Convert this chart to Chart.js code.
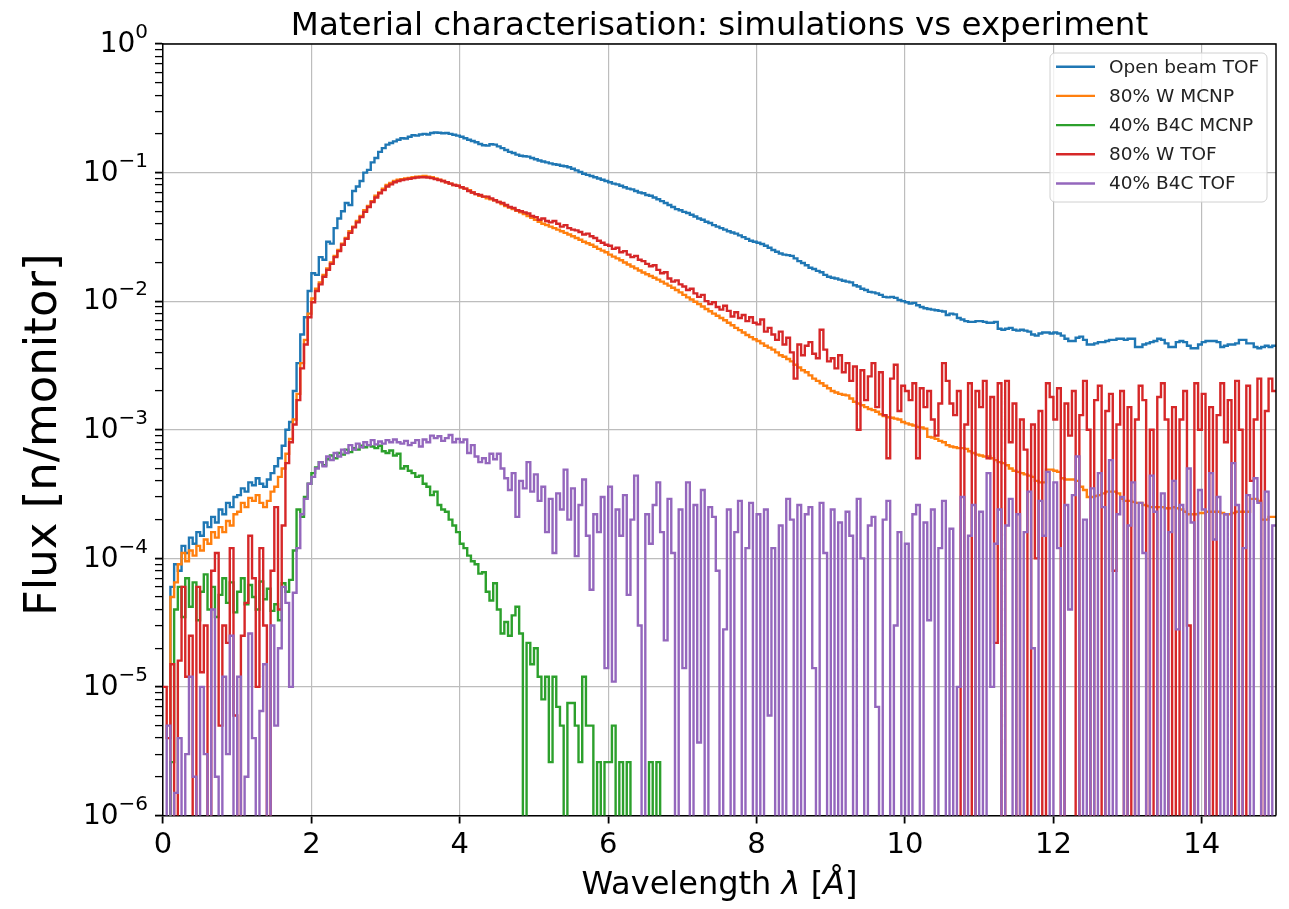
<!DOCTYPE html>
<html>
<head>
<meta charset="utf-8">
<script src="https://cdn.jsdelivr.net/npm/chart.js@4.4.1/dist/chart.umd.min.js"></script>
<style>
  html, body { margin: 0; padding: 0; background: #ffffff; }
  #wrap { width: 1289px; height: 909px; }
</style>
</head>
<body>
<div id="wrap"><canvas id="flux" width="1289" height="909"></canvas></div>
<script>
// Wavelength binning (Å): every series is a histogram on 0.05 Å bins starting at 0
const BIN_WIDTH = 0.05;

// Open beam, time-of-flight measurement
const openBeamTof = [
  0, 0, 6e-5, 9e-5, 8e-5, 1.25e-4, 1.1e-4, 1.45e-4, 1.3e-4, 1.6e-4, 1.5e-4, 1.9e-4, 1.75e-4, 2.1e-4, 1.9e-4, 2.4e-4, 2.2e-4, 2.7e-4, 2.5e-4, 3.0e-4,
  3.1e-4, 3.5e-4, 3.3e-4, 3.9e-4, 3.7e-4, 4.2e-4, 3.8e-4, 3.6e-4, 4.1e-4, 4.6e-4, 5.2e-4, 6.0e-4, 7.5e-4, 1.0e-3, 1.15e-3, 2.0e-3, 3.3e-3, 5.5e-3, 7.5e-3, 1.2e-2,
  1.65e-2, 1.6e-2, 2.2e-2, 2.1e-2, 2.9e-2, 2.8e-2, 3.7e-2, 4.4e-2, 5.0e-2, 5.8e-2, 5.6e-2, 7.2e-2, 7.8e-2, 8.6e-2, 1.0e-1, 1.05e-1, 1.2e-1, 1.3e-1, 1.45e-1, 1.55e-1,
  1.65e-1, 1.7e-1, 1.75e-1, 1.8e-1, 1.85e-1, 1.84e-1, 1.9e-1, 1.95e-1, 1.94e-1, 1.98e-1, 2.0e-1, 1.98e-1, 2.03e-1, 2.05e-1, 2.04e-1, 2.02e-1, 2.03e-1, 2.0e-1, 1.97e-1, 1.94e-1,
  1.9e-1, 1.85e-1, 1.8e-1, 1.76e-1, 1.72e-1, 1.67e-1, 1.63e-1, 1.62e-1, 1.66e-1, 1.65e-1, 1.6e-1, 1.55e-1, 1.5e-1, 1.45e-1, 1.42e-1, 1.38e-1, 1.35e-1, 1.34e-1, 1.33e-1, 1.3e-1,
  1.27e-1, 1.24e-1, 1.22e-1, 1.2e-1, 1.18e-1, 1.16e-1, 1.15e-1, 1.13e-1, 1.12e-1, 1.1e-1, 1.07e-1, 1.04e-1, 1.01e-1, 9.8e-2, 9.6e-2, 9.4e-2, 9.2e-2, 9.0e-2, 8.8e-2, 8.6e-2,
  8.4e-2, 8.2e-2, 8.1e-2, 7.9e-2, 7.7e-2, 7.5e-2, 7.4e-2, 7.2e-2, 7.0e-2, 6.9e-2, 6.7e-2, 6.6e-2, 6.4e-2, 6.2e-2, 6.0e-2, 5.8e-2, 5.6e-2, 5.4e-2, 5.2e-2, 5.1e-2,
  4.95e-2, 4.85e-2, 4.7e-2, 4.55e-2, 4.4e-2, 4.3e-2, 4.15e-2, 4.05e-2, 3.9e-2, 3.8e-2, 3.7e-2, 3.6e-2, 3.5e-2, 3.42e-2, 3.35e-2, 3.25e-2, 3.15e-2, 3.05e-2, 2.95e-2, 2.9e-2,
  2.85e-2, 2.78e-2, 2.7e-2, 2.6e-2, 2.5e-2, 2.42e-2, 2.35e-2, 2.3e-2, 2.28e-2, 2.25e-2, 2.15e-2, 2.05e-2, 1.98e-2, 1.9e-2, 1.82e-2, 1.78e-2, 1.72e-2, 1.68e-2, 1.6e-2, 1.55e-2,
  1.52e-2, 1.5e-2, 1.47e-2, 1.44e-2, 1.42e-2, 1.4e-2, 1.33e-2, 1.3e-2, 1.25e-2, 1.22e-2, 1.18e-2, 1.17e-2, 1.15e-2, 1.12e-2, 1.08e-2, 1.07e-2, 1.08e-2, 1.06e-2, 1.02e-2, 1.0e-2,
  9.8e-3, 9.6e-3, 9.7e-3, 9.3e-3, 9.0e-3, 8.8e-3, 8.7e-3, 8.6e-3, 8.5e-3, 8.4e-3, 8.3e-3, 7.8e-3, 8.0e-3, 7.9e-3, 7.4e-3, 7.2e-3, 7.0e-3, 6.9e-3, 6.9e-3, 7.0e-3,
  7.0e-3, 6.9e-3, 6.8e-3, 6.8e-3, 6.9e-3, 6.1e-3, 6.0e-3, 6.1e-3, 6.2e-3, 6.0e-3, 5.9e-3, 6.0e-3, 5.9e-3, 5.8e-3, 5.5e-3, 5.4e-3, 5.6e-3, 5.7e-3, 5.7e-3, 5.6e-3,
  5.7e-3, 5.6e-3, 5.4e-3, 5.1e-3, 4.9e-3, 4.9e-3, 5.2e-3, 5.3e-3, 5.0e-3, 4.6e-3, 4.6e-3, 4.7e-3, 4.8e-3, 4.8e-3, 4.9e-3, 5.0e-3, 5.0e-3, 5.1e-3, 5.1e-3, 5.0e-3,
  5.1e-3, 5.1e-3, 4.4e-3, 4.4e-3, 4.6e-3, 4.7e-3, 4.8e-3, 4.9e-3, 5.1e-3, 5.0e-3, 4.7e-3, 4.4e-3, 4.4e-3, 4.8e-3, 4.9e-3, 4.8e-3, 4.5e-3, 4.3e-3, 4.3e-3, 4.6e-3,
  4.8e-3, 4.9e-3, 4.9e-3, 4.9e-3, 4.8e-3, 4.4e-3, 4.5e-3, 4.6e-3, 4.6e-3, 4.7e-3, 5.0e-3, 5.0e-3, 4.7e-3, 4.7e-3, 4.4e-3, 4.3e-3, 4.4e-3, 4.5e-3, 4.4e-3, 4.5e-3
];

// 80% W sample, MCNP simulation
const tungstenMcnp = [
  0, 0, 5e-5, 6.5e-5, 9e-5, 1.1e-4, 9.5e-5, 1.15e-4, 1.05e-4, 1.25e-4, 1.15e-4, 1.4e-4, 1.3e-4, 1.6e-4, 1.45e-4, 1.75e-4, 1.6e-4, 1.95e-4, 1.8e-4, 2.2e-4,
  2.3e-4, 2.7e-4, 2.5e-4, 2.95e-4, 2.8e-4, 3.1e-4, 2.7e-4, 2.5e-4, 2.8e-4, 3.3e-4, 3.6e-4, 4.3e-4, 5.0e-4, 6.5e-4, 8.5e-4, 1.2e-3, 1.9e-3, 3.3e-3, 5.0e-3, 8.0e-3,
  1.05e-2, 1.25e-2, 1.4e-2, 1.6e-2, 1.8e-2, 2.0e-2, 2.25e-2, 2.5e-2, 2.8e-2, 3.1e-2, 3.5e-2, 3.8e-2, 4.2e-2, 4.6e-2, 5.1e-2, 5.5e-2, 6.0e-2, 6.6e-2, 7.0e-2, 7.5e-2,
  8.0e-2, 8.3e-2, 8.6e-2, 8.8e-2, 8.9e-2, 9.0e-2, 9.1e-2, 9.2e-2, 9.3e-2, 9.35e-2, 9.4e-2, 9.3e-2, 9.2e-2, 9.0e-2, 8.8e-2, 8.6e-2, 8.4e-2, 8.2e-2, 8.0e-2, 7.9e-2,
  7.7e-2, 7.5e-2, 7.3e-2, 7.0e-2, 6.8e-2, 6.6e-2, 6.5e-2, 6.3e-2, 6.2e-2, 6.1e-2, 5.9e-2, 5.7e-2, 5.5e-2, 5.35e-2, 5.2e-2, 5.05e-2, 4.9e-2, 4.75e-2, 4.6e-2, 4.45e-2,
  4.3e-2, 4.15e-2, 4.0e-2, 3.9e-2, 3.8e-2, 3.7e-2, 3.6e-2, 3.5e-2, 3.4e-2, 3.3e-2, 3.2e-2, 3.1e-2, 3.0e-2, 2.9e-2, 2.82e-2, 2.75e-2, 2.65e-2, 2.55e-2, 2.47e-2, 2.4e-2,
  2.3e-2, 2.22e-2, 2.15e-2, 2.08e-2, 2.0e-2, 1.93e-2, 1.86e-2, 1.8e-2, 1.73e-2, 1.67e-2, 1.62e-2, 1.57e-2, 1.52e-2, 1.47e-2, 1.42e-2, 1.37e-2, 1.32e-2, 1.27e-2, 1.22e-2, 1.17e-2,
  1.12e-2, 1.07e-2, 1.03e-2, 9.9e-3, 9.5e-3, 9.1e-3, 8.7e-3, 8.35e-3, 8.0e-3, 7.7e-3, 7.4e-3, 7.1e-3, 6.8e-3, 6.5e-3, 6.2e-3, 5.95e-3, 5.7e-3, 5.45e-3, 5.25e-3, 5.05e-3,
  4.9e-3, 4.7e-3, 4.5e-3, 4.35e-3, 4.2e-3, 4.0e-3, 3.8e-3, 3.7e-3, 3.55e-3, 3.4e-3, 3.2e-3, 3.05e-3, 2.9e-3, 2.8e-3, 2.65e-3, 2.5e-3, 2.4e-3, 2.3e-3, 2.2e-3, 2.1e-3,
  2.0e-3, 1.95e-3, 1.9e-3, 1.87e-3, 1.85e-3, 1.75e-3, 1.65e-3, 1.6e-3, 1.55e-3, 1.5e-3, 1.45e-3, 1.42e-3, 1.38e-3, 1.32e-3, 1.28e-3, 1.25e-3, 1.24e-3, 1.22e-3, 1.2e-3, 1.15e-3,
  1.12e-3, 1.1e-3, 1.08e-3, 1.05e-3, 1.04e-3, 1.02e-3, 8.8e-4, 8.7e-4, 8.5e-4, 8.2e-4, 8.0e-4, 7.6e-4, 7.4e-4, 7.3e-4, 7.2e-4, 7.2e-4, 7.1e-4, 6.8e-4, 6.6e-4, 6.4e-4,
  6.3e-4, 6.2e-4, 6.2e-4, 6.0e-4, 5.8e-4, 5.6e-4, 5.5e-4, 5.3e-4, 5.0e-4, 4.8e-4, 4.7e-4, 4.6e-4, 4.5e-4, 4.4e-4, 4.3e-4, 4.0e-4, 3.9e-4, 3.9e-4, 4.9e-4, 4.9e-4,
  4.8e-4, 4.7e-4, 4.2e-4, 4.1e-4, 4.1e-4, 4.1e-4, 4.0e-4, 3.6e-4, 3.4e-4, 3.0e-4, 3.0e-4, 3.05e-4, 3.1e-4, 3.2e-4, 3.3e-4, 3.3e-4, 3.3e-4, 3.2e-4, 2.9e-4, 2.8e-4,
  2.8e-4, 2.75e-4, 2.7e-4, 2.7e-4, 2.6e-4, 2.55e-4, 2.5e-4, 2.5e-4, 2.5e-4, 2.5e-4, 2.45e-4, 2.45e-4, 2.5e-4, 2.45e-4, 2.4e-4, 2.3e-4, 2.2e-4, 2.2e-4, 2.2e-4, 2.25e-4,
  2.25e-4, 2.3e-4, 2.3e-4, 2.3e-4, 2.3e-4, 2.25e-4, 2.2e-4, 2.2e-4, 2.25e-4, 2.3e-4, 2.3e-4, 2.3e-4, 2.3e-4, 2.9e-4, 2.9e-4, 2.8e-4, 2.0e-4, 2.0e-4, 2.1e-4, 2.1e-4
];

// 40% B4C sample, MCNP simulation (empty beyond 6.75 Å)
const boronCarbideMcnp = [
  0, 0, 2.6e-6, 4e-5, 6e-5, 3.5e-5, 7e-5, 4.2e-5, 6.5e-5, 3.3e-5, 5.5e-5, 7.5e-5, 4e-5, 6e-5, 3.5e-5, 5.2e-5, 7e-5, 4.5e-5, 6.5e-5, 3.8e-5,
  5.5e-5, 7e-5, 4.4e-5, 6.2e-5, 5.0e-5, 4.0e-5, 6.6e-5, 4.8e-5, 5.8e-5, 3.9e-5, 4.4e-5, 3.3e-5, 6.4e-5, 5.5e-5, 6.8e-5, 1.15e-4, 2.4e-4, 2.1e-4, 3.0e-4, 3.8e-4,
  4.6e-4, 5.1e-4, 5.6e-4, 5.3e-4, 5.9e-4, 6.3e-4, 6.0e-4, 6.6e-4, 6.4e-4, 7.0e-4, 6.7e-4, 7.2e-4, 7.0e-4, 7.5e-4, 7.3e-4, 7.6e-4, 7.4e-4, 7.2e-4, 7.5e-4, 6.8e-4,
  6.6e-4, 6.9e-4, 6.3e-4, 6.5e-4, 5.0e-4, 5.2e-4, 4.8e-4, 4.6e-4, 4.3e-4, 4.4e-4, 3.8e-4, 3.6e-4, 3.1e-4, 3.3e-4, 2.6e-4, 2.4e-4, 2.3e-4, 2.0e-4, 1.8e-4, 1.6e-4,
  1.3e-4, 1.2e-4, 1.05e-4, 9.5e-5, 9.0e-5, 7.6e-5, 7.8e-5, 5.5e-5, 4.7e-5, 6.4e-5, 4.0e-5, 2.6e-5, 3.2e-5, 2.5e-5, 3.6e-5, 4.2e-5, 2.6e-5, 0, 2.2e-5, 1.5e-5,
  2.0e-5, 1.2e-5, 8e-6, 1.2e-5, 2.6e-6, 1.2e-5, 7e-6, 5e-6, 0, 7.5e-6, 7.5e-6, 5e-6, 2.6e-6, 1.2e-5, 5e-6, 5e-6, 0, 2.6e-6, 0, 2.6e-6,
  2.6e-6, 5e-6, 0, 2.6e-6, 0, 2.6e-6, 0, 0, 0, 0, 0, 2.6e-6, 0, 2.6e-6, 0, 0
];

// 80% W sample, time-of-flight measurement
const tungstenTof = [
  1.0e-5, 4e-6, 1.5e-5, 0, 1.6e-5, 6e-5, 1.2e-5, 2.5e-5, 0, 6e-5, 1.3e-5, 3e-5, 0, 8e-5, 1.1e-4, 5e-6, 3e-5, 2.2e-5, 1.2e-4, 6e-6,
  0, 2.5e-5, 4.5e-5, 1.5e-4, 7e-5, 1.0e-5, 1.2e-4, 3e-5, 0, 8e-5, 2.5e-4, 4e-5, 1.8e-4, 5.5e-4, 8e-4, 1.1e-3, 1.7e-3, 3.0e-3, 4.6e-3, 7.5e-3,
  9.8e-3, 1.2e-2, 1.35e-2, 1.55e-2, 1.75e-2, 1.95e-2, 2.2e-2, 2.45e-2, 2.75e-2, 3.05e-2, 3.4e-2, 3.75e-2, 4.1e-2, 4.5e-2, 4.95e-2, 5.4e-2, 5.9e-2, 6.4e-2, 6.9e-2, 7.3e-2,
  7.8e-2, 8.1e-2, 8.4e-2, 8.6e-2, 8.75e-2, 8.85e-2, 8.95e-2, 9.05e-2, 9.15e-2, 9.2e-2, 9.2e-2, 9.15e-2, 9.05e-2, 8.9e-2, 8.75e-2, 8.6e-2, 8.4e-2, 8.2e-2, 8.0e-2, 7.9e-2,
  7.7e-2, 7.5e-2, 7.2e-2, 7.0e-2, 6.8e-2, 6.7e-2, 6.5e-2, 6.5e-2, 6.3e-2, 6.1e-2, 5.9e-2, 5.8e-2, 5.6e-2, 5.4e-2, 5.3e-2, 5.1e-2, 5.0e-2, 4.9e-2, 4.8e-2, 4.6e-2,
  4.5e-2, 4.3e-2, 4.4e-2, 4.2e-2, 4.1e-2, 4.2e-2, 4.0e-2, 3.8e-2, 3.9e-2, 3.7e-2, 3.6e-2, 3.55e-2, 3.45e-2, 3.3e-2, 3.35e-2, 3.2e-2, 3.1e-2, 2.95e-2, 2.85e-2, 2.75e-2,
  2.7e-2, 2.55e-2, 2.6e-2, 2.4e-2, 2.45e-2, 2.3e-2, 2.2e-2, 2.25e-2, 2.1e-2, 2.05e-2, 1.95e-2, 1.87e-2, 1.9e-2, 1.75e-2, 1.65e-2, 1.68e-2, 1.5e-2, 1.42e-2, 1.45e-2, 1.35e-2,
  1.3e-2, 1.22e-2, 1.25e-2, 1.15e-2, 1.08e-2, 1.12e-2, 1.0e-2, 9.5e-3, 9.8e-3, 9.0e-3, 8.6e-3, 9.2e-3, 8.4e-3, 7.6e-3, 8.2e-3, 7.4e-3, 7.8e-3, 7.0e-3, 7.5e-3, 6.8e-3,
  6.6e-3, 7.2e-3, 5.8e-3, 6.2e-3, 5.5e-3, 5.0e-3, 5.8e-3, 4.6e-3, 5.2e-3, 4.0e-3, 2.5e-3, 4.6e-3, 3.8e-3, 4.5e-3, 4.8e-3, 3.9e-3, 3.6e-3, 6.0e-3, 4.2e-3, 3.4e-3,
  3.6e-3, 3.0e-3, 3.8e-3, 2.8e-3, 3.3e-3, 2.4e-3, 3.1e-3, 1.0e-3, 2.9e-3, 1.7e-3, 2.6e-3, 3.3e-3, 1.5e-3, 2.8e-3, 1.3e-3, 6.0e-4, 2.5e-3, 3.2e-3, 1.4e-3, 2.2e-3,
  2.0e-3, 1.7e-3, 2.3e-3, 6e-4, 2.1e-3, 1.5e-3, 2.0e-3, 1.2e-3, 9e-4, 1.6e-3, 3.3e-3, 2.4e-3, 1.6e-3, 1.3e-3, 2.0e-3, 0, 1.1e-3, 2.3e-3, 0, 2.0e-3,
  1.5e-3, 2.4e-3, 6e-4, 1.8e-3, 2.2e-5, 2.3e-3, 0, 2.4e-3, 8e-4, 1.6e-3, 0, 1.2e-3, 7e-4, 0, 1.1e-3, 1e-4, 1.4e-3, 0, 2.3e-3, 1.8e-3,
  1.2e-3, 2.1e-3, 0, 1.6e-3, 9e-4, 2.0e-3, 0, 1.3e-3, 2.4e-3, 1.0e-3, 0, 1.7e-3, 2.2e-3, 0, 1.4e-3, 1.9e-3, 8e-5, 1.1e-3, 2.0e-3, 0,
  1.5e-3, 0, 1.2e-3, 2.2e-3, 1.7e-3, 0, 1.0e-3, 0, 1.8e-3, 2.3e-3, 1.2e-3, 0, 1.5e-3, 0, 1.2e-3, 2.0e-3, 3e-5, 0, 2.3e-3, 1.0e-3,
  1.9e-3, 0, 1.5e-3, 0, 1.3e-3, 2.3e-3, 8e-4, 1.7e-3, 0, 2.4e-3, 1.0e-3, 0, 2.2e-3, 4e-4, 1.2e-3, 2.5e-3, 0, 1.4e-3, 2.5e-3, 2.0e-3
];

// 40% B4C sample, time-of-flight measurement
const boronCarbideTof = [
  0, 5e-6, 0, 1.5e-6, 4e-6, 0, 3e-6, 1.2e-5, 2e-6, 0, 1e-5, 3e-6, 0, 4e-5, 2e-6, 0, 1.2e-5, 3e-6, 2.5e-5, 0,
  1.2e-5, 0, 2e-6, 2.6e-5, 4e-6, 0, 6.5e-6, 1.5e-5, 0, 3e-5, 5e-6, 2e-5, 6e-5, 4.5e-5, 1e-5, 5.4e-5, 1.2e-4, 2.2e-4, 2.9e-4, 3.8e-4,
  4.3e-4, 5.0e-4, 5.6e-4, 5.2e-4, 6.2e-4, 5.8e-4, 6.6e-4, 6.2e-4, 7.0e-4, 6.6e-4, 7.6e-4, 7.0e-4, 7.8e-4, 7.3e-4, 8.0e-4, 7.6e-4, 8.3e-4, 7.7e-4, 8.1e-4, 7.8e-4,
  8.3e-4, 8.0e-4, 8.4e-4, 8.0e-4, 7.8e-4, 8.2e-4, 7.6e-4, 7.9e-4, 8.3e-4, 7.4e-4, 8.4e-4, 8.0e-4, 9.0e-4, 8.6e-4, 8.9e-4, 8.2e-4, 8.6e-4, 9.1e-4, 8.0e-4, 8.5e-4,
  8.0e-4, 8.4e-4, 6.6e-4, 7.6e-4, 6.2e-4, 5.6e-4, 6.0e-4, 5.5e-4, 6.5e-4, 5.9e-4, 6.5e-4, 5.0e-4, 4.2e-4, 3.4e-4, 4.6e-4, 2.1e-4, 4.0e-4, 3.5e-4, 5.6e-4, 3.3e-4,
  4.5e-4, 2.8e-4, 3.6e-4, 1.6e-4, 2.9e-4, 1.1e-4, 3.2e-4, 2.4e-4, 4.9e-4, 2.0e-4, 3.5e-4, 1.04e-4, 2.6e-4, 4.1e-4, 1.5e-4, 5.7e-5, 2.2e-4, 1.6e-4, 3.0e-4, 1.4e-5,
  3.6e-4, 1.1e-5, 2.4e-4, 1.5e-4, 3.1e-4, 5.2e-5, 2.0e-4, 4.4e-4, 3.0e-5, 0, 2.2e-4, 1.3e-4, 2.6e-4, 3.9e-4, 1.6e-4, 2.3e-5, 2.9e-4, 1.1e-4, 0, 2.4e-4,
  1.4e-5, 3.9e-4, 0, 2.6e-4, 3.7e-6, 3.4e-4, 0, 2.5e-4, 2.1e-4, 8e-5, 0, 2.8e-5, 2.4e-4, 0, 1.6e-4, 2.8e-4, 0, 1.2e-4, 2.7e-4, 0,
  2.2e-4, 0, 2.4e-4, 6e-6, 1.2e-4, 0, 1.8e-4, 0, 2.9e-4, 2.0e-4, 0, 2.6e-4, 0, 2.2e-4, 2.5e-4, 1.4e-5, 0, 2.7e-4, 1.1e-4, 0,
  2.4e-4, 0, 1.9e-4, 0, 2.3e-4, 1.5e-4, 0, 2.9e-4, 1.0e-4, 0, 1.8e-4, 2.1e-4, 7e-6, 0, 2.0e-4, 2.8e-4, 0, 3e-5, 1.6e-4, 0,
  1.3e-4, 0, 2.2e-4, 2.6e-4, 0, 1.9e-4, 3.3e-5, 2.4e-4, 0, 1.2e-4, 2.8e-4, 0, 1.7e-4, 0, 1e-5, 3.0e-4, 0, 1.5e-4, 2.6e-4, 0,
  2.3e-4, 0, 4.6e-4, 1e-5, 1.3e-4, 2.4e-4, 0, 1.8e-4, 2.9e-4, 0, 2.2e-4, 0, 1.6e-4, 3.3e-4, 2e-5, 0, 2.8e-4, 1.5e-4, 4.7e-4, 0,
  3.9e-4, 1.2e-4, 0, 2.6e-4, 4e-5, 3.1e-4, 6.2e-4, 0, 2.0e-4, 0, 3.5e-4, 0, 4.6e-4, 2.5e-4, 0, 5.8e-4, 0, 2.2e-4, 3.0e-4, 0,
  1.8e-4, 3.9e-4, 0, 2.7e-4, 1.1e-4, 0, 4.4e-4, 2.3e-4, 0, 3.2e-4, 0, 1.6e-4, 4.0e-4, 2.8e-5, 2.6e-4, 0, 5.0e-4, 1.9e-4, 0, 3.4e-4,
  2.4e-4, 0, 4.6e-4, 1.4e-4, 3.0e-4, 0, 2.2e-4, 0, 5.5e-4, 2.6e-4, 0, 1.2e-4, 3.1e-4, 0, 4.2e-4, 2.7e-4, 0, 3.3e-4, 0, 1.8e-4
];

const seriesLabels = ['Open beam TOF', '80% W MCNP', '40% B4C MCNP', '80% W TOF', '40% B4C TOF'];
const seriesValues = [openBeamTof, tungstenMcnp, boronCarbideMcnp, tungstenTof, boronCarbideTof];
const seriesColors = ['#1f77b4', '#ff7f0e', '#2ca02c', '#d62728', '#9467bd'];

const xTickValues = [0, 2, 4, 6, 8, 10, 12, 14];
const decades = [-6, -5, -4, -3, -2, -1, 0];

const TITLE = 'Material characterisation: simulations vs experiment';
const Y_TITLE = 'Flux [n/monitor]';
const FONT = '"DejaVu Sans", "Liberation Sans", sans-serif';
const GRID_COLOR = '#bdbdbd';

// empty bins (zero counts) are placed far below the visible range so the step drops off the axis
const EMPTY_BIN = 1e-9;

function toSteps(values) {
  const pts = values.map((v, i) => ({ x: i * BIN_WIDTH, y: v > 0 ? v : EMPTY_BIN }));
  const last = values[values.length - 1];
  pts.push({ x: values.length * BIN_WIDTH, y: last > 0 ? last : EMPTY_BIN });
  return pts;
}

function isDecade(v) {
  const l = Math.log10(v);
  return Math.abs(l - Math.round(l)) < 1e-9;
}

// y tick positions: each decade and its 2..9 sub-divisions
const yTickValues = [];
decades.forEach(e => {
  yTickValues.push(Math.pow(10, e));
  if (e < 0) for (let m = 2; m <= 9; m++) yTickValues.push(m * Math.pow(10, e));
});

const datasets = seriesValues.map((vals, k) => ({
  label: seriesLabels[k],
  data: toSteps(vals),
  borderColor: seriesColors[k],
  backgroundColor: seriesColors[k],
  borderWidth: 2.4,
  stepped: true,
  pointRadius: 0,
  fill: false,
  order: seriesValues.length - k
}));

const decorations = {
  id: 'decorations',
  afterDraw(chart) {
    const { ctx, chartArea: a } = chart;
    const ys = chart.scales.y;
    ctx.save();

    // top and right frame lines
    ctx.strokeStyle = '#000';
    ctx.lineWidth = 1.5;
    ctx.beginPath();
    ctx.moveTo(a.left, a.top);
    ctx.lineTo(a.right, a.top);
    ctx.lineTo(a.right, a.bottom);
    ctx.stroke();

    ctx.fillStyle = '#000';

    // y decade labels: 10 with a raised exponent
    decades.forEach(e => {
      const y = ys.getPixelForValue(Math.pow(10, e));
      const exp = e === 0 ? '0' : '\u2212' + (-e);
      ctx.font = '20px ' + FONT;
      const ew = ctx.measureText(exp).width;
      ctx.font = '28px ' + FONT;
      const bw = ctx.measureText('10').width;
      const right = a.left - 15;
      ctx.textAlign = 'left';
      ctx.textBaseline = 'middle';
      ctx.fillText('10', right - ew - bw, y + 1);
      ctx.font = '20px ' + FONT;
      ctx.fillText(exp, right - ew, y - 11);
    });

    // title
    ctx.font = '32.5px ' + FONT;
    ctx.textAlign = 'center';
    ctx.textBaseline = 'alphabetic';
    ctx.fillText(TITLE, (a.left + a.right) / 2, 35);

    // x-axis title with italic symbols
    const parts = [
      ['Wavelength ', ''], ['\u03BB', 'italic '], [' [', ''], ['\u00C5', 'italic '], [']', '']
    ];
    const xs = 32;
    let total = 0;
    parts.forEach(p => { ctx.font = p[1] + xs + 'px ' + FONT; total += ctx.measureText(p[0]).width; });
    let px = (a.left + a.right) / 2 - total / 2;
    ctx.textAlign = 'left';
    parts.forEach(p => {
      ctx.font = p[1] + xs + 'px ' + FONT;
      ctx.fillText(p[0], px, 894);
      px += ctx.measureText(p[0]).width;
    });

    // y-axis title
    ctx.save();
    ctx.translate(56, (a.top + a.bottom) / 2 + 5);
    ctx.rotate(-Math.PI / 2);
    ctx.textAlign = 'center';
    ctx.font = '45px ' + FONT;
    ctx.fillText(Y_TITLE, 0, 0);
    ctx.restore();

    // legend
    const lx = 1050, ly = 53, lw = 217, lh = 149, r = 5;
    ctx.beginPath();
    ctx.moveTo(lx + r, ly);
    ctx.arcTo(lx + lw, ly, lx + lw, ly + lh, r);
    ctx.arcTo(lx + lw, ly + lh, lx, ly + lh, r);
    ctx.arcTo(lx, ly + lh, lx, ly, r);
    ctx.arcTo(lx, ly, lx + lw, ly, r);
    ctx.closePath();
    ctx.fillStyle = 'rgba(255,255,255,0.8)';
    ctx.fill();
    ctx.strokeStyle = '#d0d0d0';
    ctx.lineWidth = 1;
    ctx.stroke();

    ctx.font = '18.5px ' + FONT;
    ctx.textAlign = 'left';
    ctx.textBaseline = 'middle';
    seriesLabels.forEach((lab, k) => {
      const y = 66.7 + k * 29.2;
      ctx.strokeStyle = seriesColors[k];
      ctx.lineWidth = 2.4;
      ctx.beginPath();
      ctx.moveTo(1056, y);
      ctx.lineTo(1095, y);
      ctx.stroke();
      ctx.fillStyle = '#222';
      ctx.fillText(lab, 1109, y + 1);
    });

    ctx.restore();
  }
};

new Chart(document.getElementById('flux'), {
  type: 'line',
  data: { datasets },
  options: {
    responsive: false,
    animation: false,
    devicePixelRatio: 1,
    parsing: false,
    layout: { padding: { left: 0, right: 13, top: 44, bottom: 0 } },
    plugins: { legend: { display: false }, title: { display: false }, tooltip: { enabled: false } },
    elements: { point: { radius: 0 }, line: { tension: 0 } },
    scales: {
      x: {
        type: 'linear',
        min: 0,
        max: 15,
        afterFit(s) { s.height = 93.5; },
        afterBuildTicks(s) { s.ticks = xTickValues.map(v => ({ value: v })); },
        ticks: { color: '#000', font: { family: FONT, size: 29 }, padding: 5, maxRotation: 0, autoSkip: false },
        grid: { color: GRID_COLOR, lineWidth: 1.2, tickLength: 8, tickColor: '#000', tickWidth: 1.8 },
        border: { display: true, color: '#000', width: 1.5 }
      },
      y: {
        type: 'logarithmic',
        min: 1e-6,
        max: 1,
        afterFit(s) { s.width = 163; },
        afterBuildTicks(s) { s.ticks = yTickValues.map(v => ({ value: v })); },
        ticks: { display: false, autoSkip: false },
        grid: {
          color: c => (c.tick && isDecade(c.tick.value)) ? GRID_COLOR : 'rgba(0,0,0,0)',
          lineWidth: 1.2,
          tickLength: 8,
          tickColor: '#000',
          tickWidth: c => (c.tick && isDecade(c.tick.value)) ? 1.8 : 1.3
        },
        border: { display: true, color: '#000', width: 1.5 }
      }
    }
  },
  plugins: [decorations]
});
</script>
</body>
</html>
